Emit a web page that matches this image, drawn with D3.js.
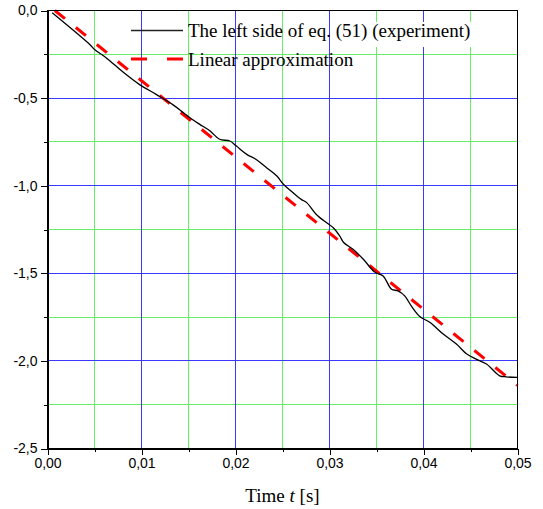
<!DOCTYPE html>
<html>
<head>
<meta charset="utf-8">
<script src="https://cdn.jsdelivr.net/npm/d3@7"></script>
<style>
  body { margin: 0; background: #fff; }
  svg { display: block; }
</style>
</head>
<body>
<svg class="chart"></svg>
<script>
// experiment curve
var expTime = [0.0005, 0.0045, 0.0050, 0.0063, 0.0080, 0.0098, 0.0116, 0.0134, 0.0145, 0.0155,
  0.0162, 0.0173, 0.0183, 0.0194, 0.0201, 0.0212, 0.0222, 0.0233, 0.0244, 0.0251,
  0.0261, 0.0270, 0.0276, 0.0286, 0.0297, 0.0304, 0.0311, 0.0315, 0.0325, 0.0336,
  0.0348, 0.0357, 0.0366, 0.0373, 0.0380, 0.0387, 0.0396, 0.0407, 0.0421, 0.0435,
  0.0446, 0.0456, 0.0467, 0.0481, 0.0488, 0.0500];
var expValue = [-0.013, -0.194, -0.222, -0.272, -0.350, -0.423, -0.480, -0.540, -0.585, -0.625,
  -0.650, -0.688, -0.735, -0.745, -0.774, -0.821, -0.850, -0.897, -0.945, -0.992,
  -1.039, -1.078, -1.098, -1.164, -1.212, -1.240, -1.288, -1.324, -1.363, -1.420,
  -1.492, -1.515, -1.591, -1.600, -1.629, -1.686, -1.746, -1.781, -1.847, -1.904,
  -1.961, -1.990, -2.018, -2.085, -2.091, -2.094];

// linear approximation end points
var fitTime = [0.00078, 0.05];
var fitValue = [0, -2.14];

var xTicks = [0, 0.01, 0.02, 0.03, 0.04, 0.05];
var xMinor = [0.005, 0.015, 0.025, 0.035, 0.045];
var yTicks = [0, -0.5, -1.0, -1.5, -2.0, -2.5];
var yMinor = [-0.25, -0.75, -1.25, -1.75, -2.25];

var legendLabels = ["The left side of eq. (51) (experiment)", "Linear approximation"];

var width = 543;
var height = 509;
var plotLeft = 47.5, plotRight = 517.5, plotTop = 10.5, plotBottom = 448.5;

var svg = d3.select(".chart").attr("width", width).attr("height", height);

var x = d3.scaleLinear().domain([0, 0.05]).range([plotLeft, plotRight]);
var y = d3.scaleLinear().domain([-2.5, 0]).range([plotBottom, plotTop]);

var fmtX = function (d) { return d3.format(".2f")(d).replace(".", ","); };
var fmtY = function (d) { return d3.format(".1f")(d).replace(".", ",").replace("−", "-"); };

function px(v) { return Math.round(v - 0.5) + 0.5; }

// grid
var grid = svg.append("g").attr("shape-rendering", "crispEdges");
grid.selectAll("line.gx-minor").data(xMinor).enter().append("line")
  .attr("x1", function (d) { return px(x(d)); })
  .attr("x2", function (d) { return px(x(d)); })
  .attr("y1", plotTop).attr("y2", plotBottom)
  .attr("stroke", "#66ee66");
grid.selectAll("line.gy-minor").data(yMinor).enter().append("line")
  .attr("y1", function (d) { return px(y(d)); })
  .attr("y2", function (d) { return px(y(d)); })
  .attr("x1", plotLeft).attr("x2", plotRight)
  .attr("stroke", "#66ee66");
grid.selectAll("line.gx-major").data(xTicks.slice(1, -1)).enter().append("line")
  .attr("x1", function (d) { return px(x(d)); })
  .attr("x2", function (d) { return px(x(d)); })
  .attr("y1", plotTop).attr("y2", plotBottom)
  .attr("stroke", "#3a3aff");
grid.selectAll("line.gy-major").data(yTicks.slice(1, -1)).enter().append("line")
  .attr("y1", function (d) { return px(y(d)); })
  .attr("y2", function (d) { return px(y(d)); })
  .attr("x1", plotLeft).attr("x2", plotRight)
  .attr("stroke", "#3a3aff");

// white patch behind the end of the first legend entry
svg.append("rect")
  .attr("x", 335).attr("y", 22).attr("width", 186).attr("height", 25)
  .attr("fill", "#fff");

// curves
var expData = expTime.map(function (t, i) { return [t, expValue[i]]; });
var fitData = fitTime.map(function (t, i) { return [t, fitValue[i]]; });

var line = d3.line()
  .x(function (d) { return x(d[0]); })
  .y(function (d) { return y(d[1]); })
  .curve(d3.curveCatmullRom);

svg.append("path")
  .datum(fitData)
  .attr("d", line)
  .attr("fill", "none")
  .attr("stroke", "#ff0000")
  .attr("stroke-width", 3)
  .attr("stroke-dasharray", "13,14");

svg.append("path")
  .datum(expData)
  .attr("d", line)
  .attr("fill", "none")
  .attr("stroke", "#000")
  .attr("stroke-width", 1.3);

// frame
svg.append("rect")
  .attr("x", plotLeft).attr("y", plotTop)
  .attr("width", plotRight - plotLeft).attr("height", plotBottom - plotTop)
  .attr("fill", "none").attr("stroke", "#000")
  .attr("shape-rendering", "crispEdges");

// axes
var xAxis = svg.append("g")
  .attr("transform", "translate(0," + plotBottom + ")")
  .call(d3.axisBottom(x).tickValues(xTicks).tickFormat(fmtX).tickSize(6).tickSizeOuter(0));
svg.append("g")
  .attr("transform", "translate(0," + plotBottom + ")")
  .call(d3.axisBottom(x).tickValues(xMinor).tickFormat("").tickSize(3).tickSizeOuter(0))
  .select(".domain").remove();

var yAxis = svg.append("g")
  .attr("transform", "translate(" + plotLeft + ",0)")
  .call(d3.axisLeft(y).tickValues(yTicks).tickFormat(fmtY).tickSize(7).tickSizeOuter(0));
svg.append("g")
  .attr("transform", "translate(" + plotLeft + ",0)")
  .call(d3.axisLeft(y).tickValues(yMinor).tickFormat("").tickSize(4).tickSizeOuter(0))
  .select(".domain").remove();

svg.selectAll(".tick line").attr("stroke", "#000").attr("shape-rendering", "crispEdges");
svg.selectAll(".domain").attr("shape-rendering", "crispEdges");
svg.selectAll(".tick text")
  .attr("font-family", "'Liberation Sans', Arial, sans-serif")
  .attr("font-size", 14)
  .attr("fill", "#000");
xAxis.selectAll(".tick text").attr("y", 10).attr("dy", "0.71em");
yAxis.selectAll(".tick text").attr("x", -10);

// axis title
var title = svg.append("text")
  .attr("x", (plotLeft + plotRight) / 2)
  .attr("y", 502)
  .attr("text-anchor", "middle")
  .attr("font-family", "'Liberation Serif', 'Times New Roman', serif")
  .attr("font-size", 19)
  .attr("fill", "#000");
title.append("tspan").text("Time ");
title.append("tspan").attr("font-style", "italic").text("t");
title.append("tspan").text(" [s]");

// legend
var legend = svg.append("g");
legend.append("line")
  .attr("x1", 131).attr("x2", 183).attr("y1", 30.5).attr("y2", 30.5)
  .attr("stroke", "#222").attr("stroke-width", 1.6);
legend.append("line")
  .attr("x1", 131).attr("x2", 183).attr("y1", 59).attr("y2", 59)
  .attr("stroke", "#ff0000").attr("stroke-width", 3)
  .attr("stroke-dasharray", "16,20");
legend.selectAll("text").data(legendLabels).enter().append("text")
  .attr("x", 188)
  .attr("y", function (d, i) { return 37 + i * 29; })
  .attr("font-family", "'Liberation Serif', 'Times New Roman', serif")
  .attr("font-size", 19)
  .attr("fill", "#000")
  .text(function (d) { return d; });
</script>
</body>
</html>
